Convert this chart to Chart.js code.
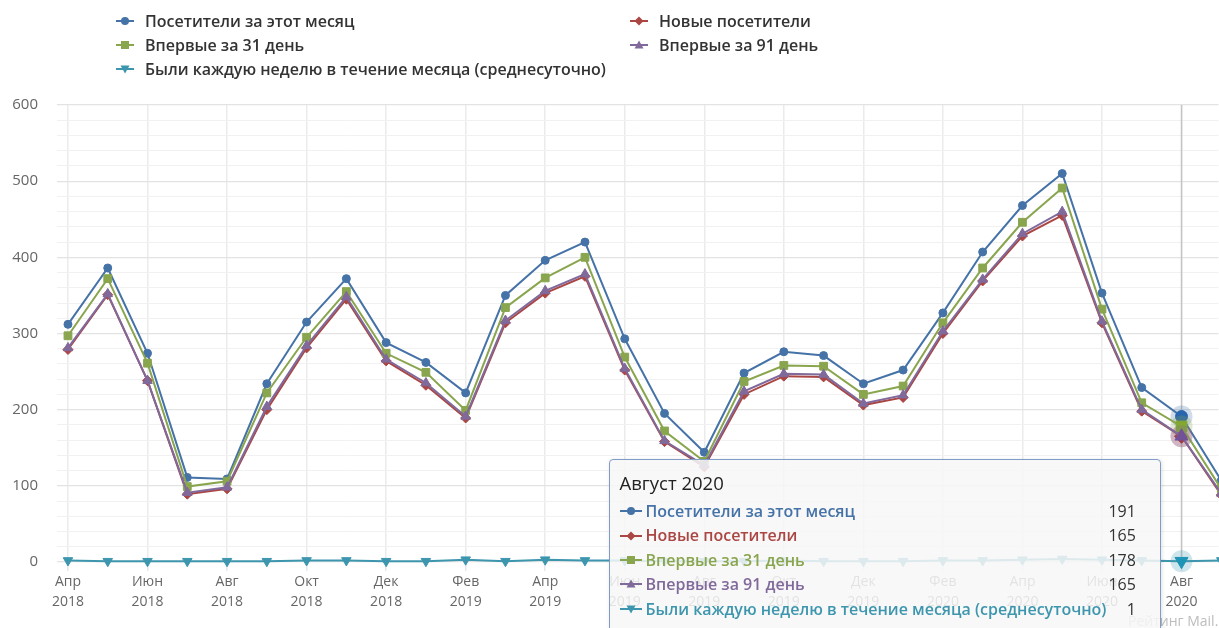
<!DOCTYPE html>
<html lang="ru">
<head>
<meta charset="utf-8">
<title>Посетители сайта</title>
<script src="https://cdn.jsdelivr.net/npm/chart.js@4.4.1/dist/chart.umd.min.js"></script>
<style>
  html, body { margin: 0; padding: 0; background: #fff; overflow: hidden; }
  #wrap { position: relative; width: 1219px; height: 628px; overflow: hidden; }
  #chart { position: absolute; left: 0; top: 0; }
  #legend {
    position: absolute; left: 116px; top: 9px;
    display: grid; grid-template-columns: 514px auto;
    font: 600 16px "Open Sans", sans-serif; color: #333;
  }
  #legend .item { height: 24px; display: flex; align-items: center; white-space: nowrap; }
  #legend svg { margin-right: 11px; }
  #counter {
    position: absolute; left: 1128px; top: 611px; white-space: nowrap;
    font: 14px "Open Sans", sans-serif; color: #bdbdbd;
  }
  #tip {
    position: absolute; display: none; pointer-events: none;
    background: rgba(247, 247, 247, 0.86);
    border: 1.5px solid #7f9cc6; border-radius: 4px;
    box-shadow: 1px 1px 4px rgba(0, 0, 0, 0.12);
    padding: 12px 24px 12px 10px;
    font: 16px "Open Sans", sans-serif; color: #333;
  }
  #tip .title { font-size: 18.5px; line-height: 22px; color: #222; margin-bottom: 5px; }
  #tip .rows { display: grid; grid-template-columns: auto auto; column-gap: 2px; }
  #tip .name { display: flex; align-items: center; font-weight: 600; line-height: 24.4px; white-space: nowrap; }
  #tip .name svg { margin-right: 4px; }
  #tip .val { text-align: right; line-height: 24.4px; font-size: 16px; }
</style>
</head>
<body>
<div id="wrap">
  <canvas id="chart" width="1227" height="628"></canvas>
  <div id="legend"></div>
  <div id="counter">Рейтинг Mail.ru</div>
  <div id="tip"></div>
</div>
<script>
// месяцы: апрель 2018 — сентябрь 2020
const months = ['Апр', 'Май', 'Июн', 'Июл', 'Авг', 'Сен', 'Окт', 'Ноя', 'Дек', 'Янв', 'Фев', 'Мар',
                'Апр', 'Май', 'Июн', 'Июл', 'Авг', 'Сен', 'Окт', 'Ноя', 'Дек', 'Янв', 'Фев', 'Мар',
                'Апр', 'Май', 'Июн', 'Июл', 'Авг', 'Сен'];
const years = [2018, 2018, 2018, 2018, 2018, 2018, 2018, 2018, 2018, 2019, 2019, 2019,
               2019, 2019, 2019, 2019, 2019, 2019, 2019, 2019, 2019, 2020, 2020, 2020,
               2020, 2020, 2020, 2020, 2020, 2020];
const monthNames = {
  'Янв': 'Январь', 'Фев': 'Февраль', 'Мар': 'Март', 'Апр': 'Апрель', 'Май': 'Май', 'Июн': 'Июнь',
  'Июл': 'Июль', 'Авг': 'Август', 'Сен': 'Сентябрь', 'Окт': 'Октябрь', 'Ноя': 'Ноябрь', 'Дек': 'Декабрь'
};

const visitors    = [312, 386, 274, 111, 109, 234, 315, 372, 288, 262, 222, 350, 396, 420, 293, 195,
                     144, 248, 276, 271, 234, 252, 327, 407, 468, 510, 353, 229, 191, 107];
const newVisitors = [279, 351, 238, 89, 96, 200, 281, 345, 264, 232, 189, 314, 353, 375, 252, 158,
                     125, 220, 244, 243, 206, 216, 300, 369, 428, 455, 314, 198, 165, 88];
const first31     = [297, 372, 261, 99, 106, 222, 295, 355, 274, 249, 199, 334, 373, 400, 269, 172,
                     132, 237, 258, 257, 220, 231, 314, 386, 446, 491, 332, 209, 178, 96];
const first91     = [281, 352, 238, 91, 98, 204, 284, 348, 266, 235, 191, 317, 356, 378, 254, 159,
                     127, 224, 247, 246, 208, 219, 303, 371, 431, 460, 316, 200, 165, 90];
const weekly      = [2, 1, 1, 1, 1, 1, 2, 2, 1, 1, 3, 1, 3, 2, 2, 1,
                     1, 1, 2, 1, 1, 1, 2, 2, 3, 4, 3, 2, 1, 2];

const yTicks = [0, 100, 200, 300, 400, 500, 600];
const xTickIndexes = [0, 2, 4, 6, 8, 10, 12, 14, 16, 18, 20, 22, 24, 26, 28];
const hoverIndex = 28;

const series = [
  { label: 'Посетители за этот месяц', data: visitors, color: '#4572A7', marker: 'circle', r: 4 },
  { label: 'Новые посетители', data: newVisitors, color: '#AA4643', marker: 'rectRot', r: 5 },
  { label: 'Впервые за 31 день', data: first31, color: '#89A54E', marker: 'rect', r: 5.5 },
  { label: 'Впервые за 91 день', data: first91, color: '#80699B', marker: 'triangle', r: 5.5 },
  { label: 'Были каждую неделю в течение месяца (среднесуточно)', data: weekly, color: '#3D96AE', marker: 'triangleDown', r: 5.5 }
];

function rgba(hex, a) {
  const n = parseInt(hex.slice(1), 16);
  return `rgba(${n >> 16}, ${(n >> 8) & 255}, ${n & 255}, ${a})`;
}

// маленький значок серии: линия с маркером посередине
function symbol(marker, color, w) {
  const c = w / 2;
  let m;
  switch (marker) {
    case 'circle': m = `<circle cx="${c}" cy="6" r="4" fill="${color}"/>`; break;
    case 'rectRot': m = `<polygon points="${c},1.5 ${c + 4.5},6 ${c},10.5 ${c - 4.5},6" fill="${color}"/>`; break;
    case 'rect': m = `<rect x="${c - 4}" y="2" width="8" height="8" fill="${color}"/>`; break;
    case 'triangle': m = `<polygon points="${c},1.5 ${c + 4.5},9.5 ${c - 4.5},9.5" fill="${color}"/>`; break;
    default: m = `<polygon points="${c - 4.5},2.5 ${c + 4.5},2.5 ${c},10.5" fill="${color}"/>`;
  }
  return `<svg width="${w}" height="12" viewBox="0 0 ${w} 12"><line x1="0" y1="6" x2="${w}" y2="6" stroke="${color}" stroke-width="2"/>${m}</svg>`;
}

document.getElementById('legend').innerHTML = series
  .map(s => `<div class="item">${symbol(s.marker, s.color, 18)}<span>${s.label}</span></div>`)
  .join('');

const datasets = series.map((s, i) => ({
  label: s.label,
  data: s.data.map((v, idx) => ({ x: idx, y: v })),
  borderColor: s.color,
  backgroundColor: s.color,
  borderWidth: 2,
  pointStyle: s.marker === 'triangleDown' ? 'triangle' : s.marker,
  rotation: s.marker === 'triangleDown' ? 180 : 0,
  pointRadius: s.r,
  pointHoverRadius: s.r + 2,
  pointBorderWidth: 1,
  pointHoverBorderWidth: 1,
  pointBackgroundColor: s.color,
  pointBorderColor: s.color,
  tension: 0,
  clip: false,
  order: series.length - 1 - i
}));

// полупрозрачный ореол вокруг активных точек
const haloPlugin = {
  id: 'halo',
  beforeDatasetDraw(chart, args) {
    const ctx = chart.ctx;
    chart.getActiveElements()
      .filter(a => a.datasetIndex === args.index)
      .forEach(a => {
        ctx.save();
        ctx.fillStyle = rgba(series[a.datasetIndex].color, 0.25);
        ctx.beginPath();
        ctx.arc(a.element.x, a.element.y, 11, 0, Math.PI * 2);
        ctx.fill();
        ctx.restore();
      });
  }
};

// вертикальная линия через наведённый месяц
const crosshairPlugin = {
  id: 'crosshair',
  beforeDatasetsDraw(chart) {
    const act = chart.getActiveElements();
    if (!act.length) return;
    const { ctx, chartArea } = chart;
    const x = act[0].element.x;
    ctx.save();
    ctx.strokeStyle = '#c4c4c4';
    ctx.lineWidth = 1.5;
    ctx.beginPath();
    ctx.moveTo(x, chartArea.top);
    ctx.lineTo(x, chartArea.bottom);
    ctx.stroke();
    ctx.restore();
  }
};

function externalTooltip({ chart, tooltip }) {
  const el = document.getElementById('tip');
  if (tooltip.opacity === 0) { el.style.display = 'none'; return; }
  const points = tooltip.dataPoints.slice().sort((a, b) => a.datasetIndex - b.datasetIndex);
  const idx = points[0].dataIndex;
  let html = `<div class="title">${monthNames[months[idx]]} ${years[idx]}</div><div class="rows">`;
  points.forEach(p => {
    const s = series[p.datasetIndex];
    html += `<div class="name" style="color:${s.color}">${symbol(s.marker, s.color, 22)}<span>${s.label}</span></div>`;
    html += `<div class="val">${p.parsed.y}</div>`;
  });
  html += '</div>';
  el.innerHTML = html;
  el.style.display = 'block';
  el.style.left = (tooltip.caretX - el.offsetWidth - 21) + 'px';
  el.style.top = (chart.chartArea.bottom - 103) + 'px';
}

const chart = new Chart(document.getElementById('chart'), {
  type: 'line',
  data: { datasets },
  plugins: [crosshairPlugin, haloPlugin],
  options: {
    responsive: false,
    animation: false,
    layout: { padding: { left: 10, top: 105, right: 0, bottom: 15 } },
    interaction: { mode: 'index', intersect: false },
    scales: {
      x: {
        type: 'linear',
        min: -0.276,
        max: 28.93,
        afterBuildTicks: scale => { scale.ticks = xTickIndexes.map(v => ({ value: v })); },
        ticks: {
          autoSkip: false,
          maxRotation: 0,
          padding: 1,
          color: '#666',
          font: { family: '"Open Sans", sans-serif', size: 14, lineHeight: 1.43 },
          callback: v => [months[v], String(years[v])]
        },
        grid: { color: '#ebebeb', lineWidth: 1.5, drawTicks: true, tickLength: 9, tickColor: '#e4e8f0' },
        border: { display: false }
      },
      y: {
        min: 0,
        max: 600,
        afterFit: scale => { scale.width = 47; },
        afterBuildTicks: scale => {
          const t = [];
          for (let v = 0; v <= 600; v += 20) t.push({ value: v });
          scale.ticks = t;
        },
        ticks: {
          autoSkip: false,
          padding: 19,
          color: '#666',
          font: { family: '"Open Sans", sans-serif', size: 15 },
          callback: v => (yTicks.includes(v) ? v : '')
        },
        grid: {
          drawTicks: false,
          color: c => (yTicks.includes(c.tick.value) ? '#e3e3e3' : '#f1f1f1'),
          lineWidth: c => (yTicks.includes(c.tick.value) ? 1.3 : 1)
        },
        border: { display: false }
      }
    },
    plugins: {
      legend: { display: false },
      tooltip: { enabled: false, mode: 'index', intersect: false, external: externalTooltip }
    }
  }
});

const active = series.map((s, i) => ({ datasetIndex: i, index: hoverIndex }));
chart.setActiveElements(active);
chart.tooltip.setActiveElements(active, {
  x: chart.scales.x.getPixelForValue(hoverIndex),
  y: chart.scales.y.getPixelForValue(visitors[hoverIndex])
});
chart.update();
</script>
</body>
</html>
